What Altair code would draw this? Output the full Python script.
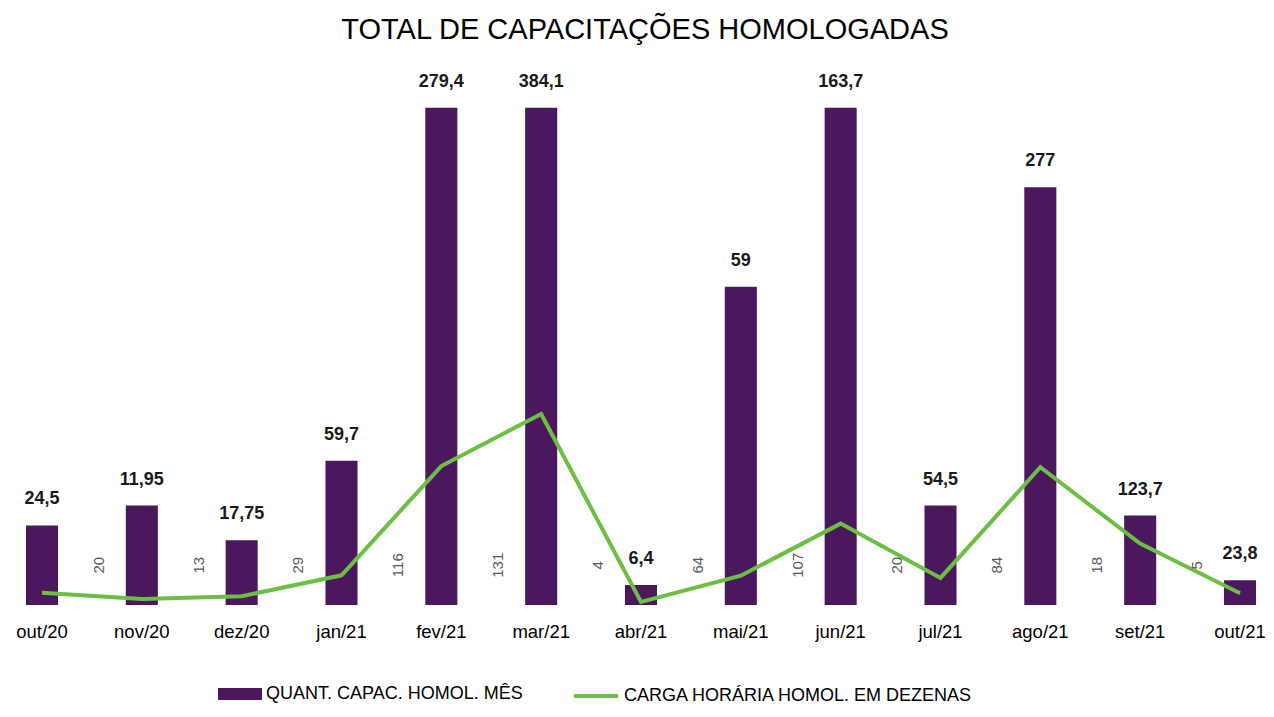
import altair as alt
import pandas as pd

meses = ["out/20", "nov/20", "dez/20", "jan/21", "fev/21", "mar/21", "abr/21",
         "mai/21", "jun/21", "jul/21", "ago/21", "set/21", "out/21"]
quant = [16, 20, 13, 29, 116, 131, 4, 64, 107, 20, 84, 18, 5]
carga = [24.5, 11.95, 17.75, 59.7, 279.4, 384.1, 6.4, 59, 163.7, 54.5, 277, 123.7, 23.8]

SERIE_Q = "QUANT. CAPAC. HOMOL. MÊS"
SERIE_C = "CARGA HORÁRIA HOMOL. EM DEZENAS"

PURPLE = "#4B185E"
GREEN = "#6CBE45"
NARROW = "Liberation Sans Narrow, Arial Narrow, Liberation Sans, Arial, sans-serif"
SANS = "Liberation Sans, Arial, sans-serif"

df = pd.DataFrame({
    "mes": meses,
    "quant": quant,
    "carga": carga,
    "ordem": list(range(len(meses))),
    "serie_q": [SERIE_Q] * len(meses),
    "serie_c": [SERIE_C] * len(meses),
})

base = alt.Chart(df).transform_calculate(
    qv="min(datum.quant, 100)",
    c10="datum.carga / 10",
    carga_txt="replace(toString(datum.carga), '.', ',')",
)

x = alt.X(
    "mes:N", sort=meses,
    scale=alt.Scale(paddingInner=0.679, paddingOuter=0.14, align=0.643, round=False),
    axis=alt.Axis(title=None, labelAngle=0, domain=False, ticks=False, grid=False,
                  labelPadding=17, labelFont=NARROW, labelFontSize=18.5,
                  labelColor="#000000"),
)
yscale = alt.Scale(domain=[0, 108], nice=False, zero=True)

bars = base.mark_bar().encode(
    x=x,
    y=alt.Y("qv:Q", scale=yscale, axis=None),
    fill=alt.Fill("serie_q:N", scale=alt.Scale(domain=[SERIE_Q], range=[PURPLE]),
                  legend=alt.Legend(title=None, orient="none",
                                    legendX=210, legendY=604,
                                    symbolType="M-1,-0.27H1V0.27H-1Z",
                                    symbolSize=1936, symbolStrokeWidth=0,
                                    labelFont=NARROW, labelFontSize=18,
                                    labelLimit=0, labelOffset=4,
                                    labelColor="#000000")),
)

line = base.mark_line(strokeWidth=4).encode(
    x=x,
    y=alt.Y("c10:Q", scale=yscale, axis=None),
    stroke=alt.Stroke("serie_c:N", scale=alt.Scale(domain=[SERIE_C], range=[GREEN]),
                      legend=alt.Legend(title=None, orient="none",
                                        legendX=564, legendY=604,
                                        symbolType="stroke", symbolSize=1936,
                                        symbolStrokeWidth=4,
                                        labelFont=NARROW, labelFontSize=18,
                                        labelLimit=0, labelOffset=4,
                                        labelColor="#000000")),
)

top_labels = base.mark_text(dy=-26, font=SANS, fontSize=18, fontWeight="bold",
                            color="#1A1A1A").encode(
    x=x,
    y=alt.Y("qv:Q", scale=yscale, axis=None),
    text="carga_txt:N",
)

rot_labels = base.transform_filter("datum.ordem > 0").mark_text(
    angle=270, baseline="middle", align="center", font=SANS, fontSize=15,
    color="#595959").encode(
    x=x,
    xOffset=alt.value(-27),
    y=alt.YDatum(8, scale=yscale, axis=None),
    text="quant:Q",
)

chart = alt.layer(bars, line, top_labels, rot_labels).properties(
    width=1258,
    height=537,
    autosize=alt.AutoSizeParams(type="none"),
    padding={"left": 0, "top": 60, "right": 0, "bottom": 103},
    title=alt.TitleParams("TOTAL DE CAPACITAÇÕES HOMOLOGADAS", font=NARROW,
                          fontSize=29, fontWeight="normal", color="#000000",
                          anchor="middle", offset=23, dx=8),
).configure_view(stroke=None).configure_legend(symbolOpacity=1)

chart.save("out.html", embed_options={"renderer": "svg", "actions": False})
